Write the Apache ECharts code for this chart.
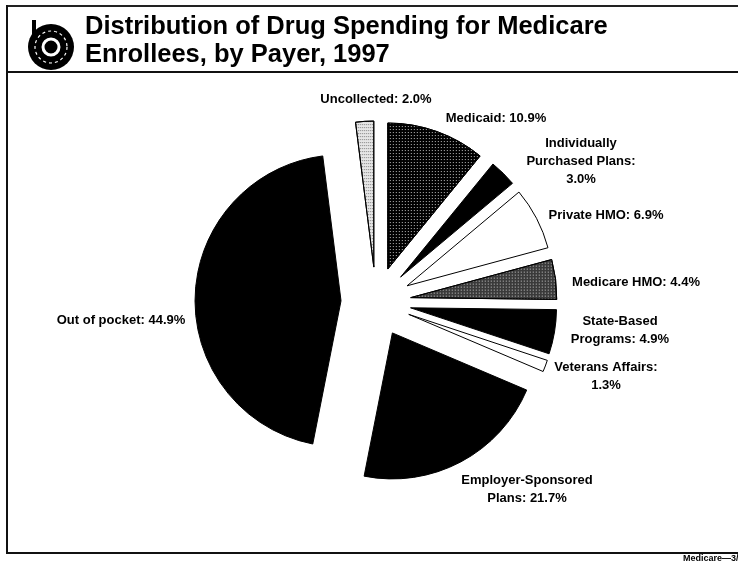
<!DOCTYPE html>
<html>
<head>
<meta charset="utf-8">
<script src="https://cdn.jsdelivr.net/npm/echarts@6/dist/echarts.min.js"></script>
<style>
  html, body { margin: 0; padding: 0; background: #fff; }
  #chart { width: 738px; height: 565px; }
</style>
</head>
<body>
<div id="chart"></div>
<script>
// Payer shares of Medicare enrollees' drug spending, 1997 (percent)
const categories = [
  'Uncollected',
  'Medicaid',
  'Individually\nPurchased Plans',
  'Private HMO',
  'Medicare HMO',
  'State-Based\nPrograms',
  'Veterans Affairs',
  'Employer-Sponsored\nPlans',
  'Out of pocket'
];
const shares = [2.0, 10.9, 3.0, 6.9, 4.4, 4.9, 1.3, 21.7, 44.9];
// separator placed between the name and its value in each label
const labelBreaks = [' ', ' ', '\n', ' ', ' ', ' ', '\n', ' ', ' '];

// label anchor points (centre of each label block)
const labelAnchors = [
  [376, 99], [496, 118], [581, 161], [606, 215], [636, 282],
  [620, 330], [606, 376], [527, 489], [121, 320]
];

const FONT = '"Liberation Sans", Arial, Helvetica, sans-serif';

// slice fills: solid, outlined white, or a dotted screen
const dotsOnDark = {
  symbol: 'rect', symbolSize: 1, color: 'rgba(255,255,255,0.75)',
  dashArrayX: [1, 2], dashArrayY: [1, 2], rotation: 0
};
const dotsOnLight = {
  symbol: 'rect', symbolSize: 1, color: 'rgba(0,0,0,0.45)',
  dashArrayX: [1, 1], dashArrayY: [1, 2], rotation: 0
};
const sliceStyles = [
  { color: '#e6e6e6', decal: dotsOnLight },
  { color: '#000', decal: dotsOnDark },
  { color: '#000' },
  { color: '#fff' },
  { color: '#3a3a3a', decal: dotsOnDark },
  { color: '#000' },
  { color: '#fff' },
  { color: '#000' },
  { color: '#000' }
];

const chart = echarts.init(document.getElementById('chart'), null, { renderer: 'canvas' });

const pieData = categories.map((name, i) => ({
  name: name,
  value: shares[i],
  selected: true,
  itemStyle: Object.assign({ borderColor: '#000', borderWidth: 1 }, sliceStyles[i])
}));

// slice labels: "<name>: <value>%"
const sliceLabels = categories.map((name, i) => ({
  type: 'text',
  silent: true,
  style: {
    x: labelAnchors[i][0],
    y: labelAnchors[i][1],
    text: name + ':' + labelBreaks[i] + shares[i].toFixed(1) + '%',
    font: 'bold 13px ' + FONT,
    lineHeight: 18,
    fill: '#000',
    align: 'center',
    verticalAlign: 'middle'
  }
}));

chart.setOption({
  animation: false,
  backgroundColor: '#fff',
  graphic: [
    // frame
    { type: 'line', shape: { x1: 7, y1: 6, x2: 738, y2: 6 }, style: { stroke: '#222', lineWidth: 2 } },
    { type: 'line', shape: { x1: 7, y1: 72, x2: 738, y2: 72 }, style: { stroke: '#111', lineWidth: 2 } },
    { type: 'line', shape: { x1: 7, y1: 5, x2: 7, y2: 554 }, style: { stroke: '#111', lineWidth: 2 } },
    { type: 'line', shape: { x1: 6, y1: 553, x2: 738, y2: 553 }, style: { stroke: '#111', lineWidth: 2 } },
    // emblem
    { type: 'rect', shape: { x: 32, y: 20, width: 4, height: 16 }, style: { fill: '#000' } },
    { type: 'circle', shape: { cx: 51, cy: 47, r: 23 }, style: { fill: '#000' } },
    { type: 'circle', shape: { cx: 51, cy: 47, r: 16 }, style: { fill: 'none', stroke: '#fff', lineWidth: 1.2, lineDash: [3, 3] } },
    { type: 'circle', shape: { cx: 51, cy: 47, r: 8 }, style: { fill: 'none', stroke: '#fff', lineWidth: 3 } },
    // title
    { type: 'text', style: { x: 85, y: 27, text: 'Distribution of Drug Spending for Medicare', font: 'bold 25.5px ' + FONT, fill: '#000', verticalAlign: 'middle' } },
    { type: 'text', style: { x: 85, y: 55, text: 'Enrollees, by Payer, 1997', font: 'bold 25.5px ' + FONT, fill: '#000', verticalAlign: 'middle' } },
    // footer
    { type: 'text', style: { x: 683, y: 559, text: 'Medicare\u20143/2', font: 'bold 9px ' + FONT, fill: '#000', verticalAlign: 'middle' } }
  ].concat(sliceLabels),
  series: [{
    type: 'pie',
    center: [376, 302],
    radius: 146,
    startAngle: 97.2,
    clockwise: true,
    selectedMode: 'multiple',
    selectedOffset: 35,
    avoidLabelOverlap: false,
    silent: true,
    emphasis: { disabled: true },
    label: { show: false },
    labelLine: { show: false },
    data: pieData
  }]
});
</script>
</body>
</html>
